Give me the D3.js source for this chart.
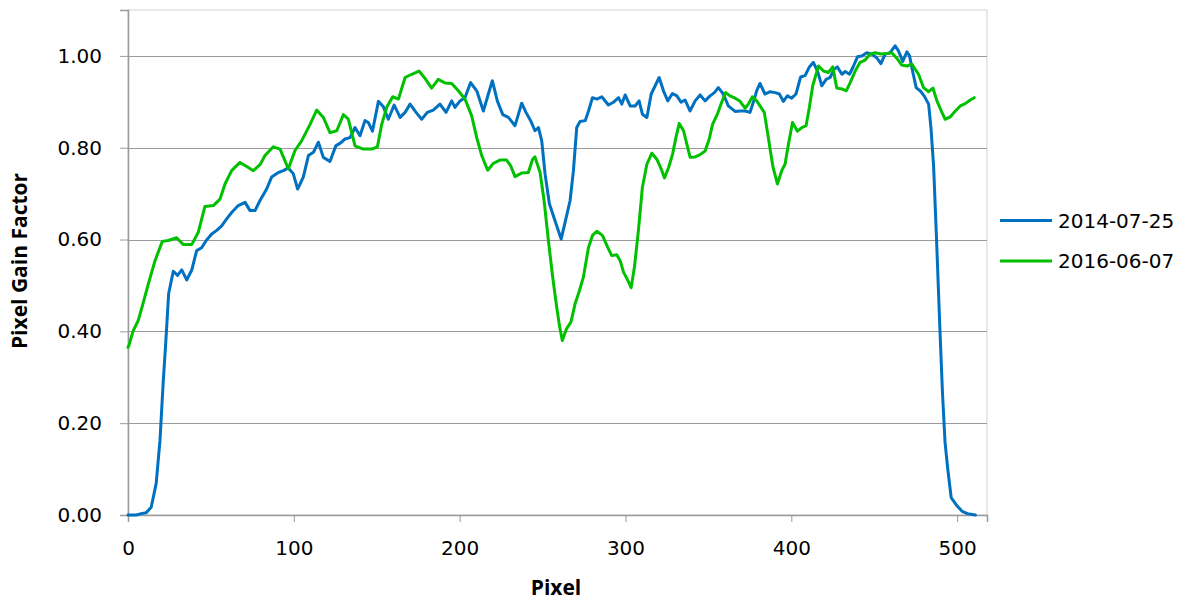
<!DOCTYPE html>
<html>
<head>
<meta charset="utf-8">
<script src="https://cdn.jsdelivr.net/npm/d3@7/dist/d3.min.js"></script>
<style>
  html, body { margin: 0; padding: 0; background: #fff; }
  svg { display: block; }
</style>
</head>
<body>
<svg id="chart" width="1193" height="603"></svg>
<script>
// ---- data ----
const seriesNames = ["2014-07-25", "2016-06-07"];
const seriesColors = ["#0070C0", "#00C000"];
const xTicks = [0, 100, 200, 300, 400, 500];
const yTicks = [0, 0.2, 0.4, 0.6, 0.8, 1.0];

const bluePixel = [0,5,8,11,14,17,19.3,21.3,22.5,23.5,24.5,27.3,29.9,32.4,35.4,38.4,41.4,44.4,47.4,50.5,53.5,56.5,59.5,62.5,66.5,70.6,73.6,76.6,79.6,83.6,86.6,90.7,93.7,96.7,99.7,102.3,105.7,108.8,111.8,114.8,117.8,121.8,125.3,128,130.9,133.9,136.9,139.9,142.9,144.9,147.4,151,154,157,160.5,164.1,167.1,170.1,173.7,177.1,180.5,184.1,188.1,191.8,195.2,197.2,200.2,203.2,206.6,210.3,214.3,217.3,219.7,222.7,226,229.4,233.4,237.4,240,242.8,245.4,247.5,249.5,251.5,254.1,257.5,261.2,263.6,266.6,268.6,270.6,272.6,275.7,277.7,280.1,282.7,285.7,289.7,292.7,295.8,297.8,299.8,302.8,305.8,308.2,310.2,312.9,315.5,317.9,320.3,322.9,325.5,328.3,331,333.5,335.9,338.9,342,345,348,351,353.6,356,359,362,366.1,369.1,372.1,375.1,377.7,379.1,381.1,384.1,387.2,390.2,392.8,395.2,397.6,400.2,402.8,405.6,408.3,410.9,413.3,415.8,418.4,421,423.4,425.8,427.8,430.5,432.5,435.1,437.5,439.9,442.5,445.5,448.5,451.5,454,456.6,459.6,462.6,464.6,467.2,469.7,471.3,473.3,475.3,477.7,480.1,482.8,484.2,485.8,487.5,489.6,491.1,492.7,494.4,496.4,499.9,503,506.2,511];
const blueGain = [0,0,0.003,0.005,0.017,0.069,0.163,0.294,0.36,0.42,0.482,0.531,0.522,0.534,0.512,0.533,0.576,0.582,0.599,0.612,0.62,0.63,0.645,0.659,0.674,0.681,0.663,0.663,0.685,0.71,0.736,0.746,0.75,0.756,0.743,0.71,0.736,0.783,0.79,0.812,0.779,0.77,0.804,0.81,0.819,0.822,0.844,0.826,0.859,0.855,0.836,0.901,0.889,0.862,0.893,0.866,0.877,0.895,0.877,0.862,0.877,0.882,0.895,0.877,0.902,0.888,0.902,0.909,0.942,0.924,0.88,0.917,0.946,0.902,0.872,0.866,0.848,0.897,0.877,0.859,0.837,0.844,0.815,0.743,0.678,0.641,0.601,0.638,0.685,0.75,0.844,0.857,0.859,0.88,0.909,0.906,0.911,0.893,0.899,0.909,0.895,0.915,0.891,0.891,0.902,0.873,0.866,0.917,0.935,0.953,0.924,0.902,0.918,0.913,0.899,0.904,0.88,0.902,0.915,0.902,0.913,0.92,0.931,0.917,0.891,0.879,0.88,0.88,0.877,0.906,0.924,0.94,0.917,0.922,0.92,0.917,0.901,0.913,0.908,0.917,0.954,0.957,0.976,0.986,0.967,0.935,0.949,0.953,0.971,0.976,0.96,0.966,0.96,0.978,0.998,1.0,1.007,1.004,0.996,0.983,1.004,1.007,1.022,1.011,0.988,1.009,1.0,0.964,0.931,0.924,0.913,0.895,0.844,0.76,0.607,0.405,0.27,0.158,0.098,0.038,0.02,0.008,0.003,0];

const greenPixel = [0,0.6,3,6.2,9,12.3,16.3,20.7,24.3,29.3,33.4,38.4,42.4,46.4,51.5,55.5,58.5,62.5,67.5,71.6,75.6,79.6,82.6,87.6,91.7,96.7,100.7,104.7,109.8,113.8,117.8,121.8,125.9,129.9,132.9,136.9,141.9,147,150.4,153,156,159.6,163.1,167.1,171.1,175.5,179.1,183.1,187.1,191.2,195.2,199.2,203.2,207.2,210.3,213.3,216.9,220.3,224.3,228.3,230.7,233.4,237.4,241.4,244,245.4,248.5,250.9,253.5,256.1,258.5,260.3,261.9,264.5,267.1,269.6,272,274.6,277.7,280.1,282.7,286.1,289.3,291.7,294.7,296.8,298.8,301.4,303.4,305.4,307.8,310.2,312.9,315.9,318.9,321.5,323.5,326,328.4,330.4,332.4,335,337,339,342,345,348,350.5,352.5,355.6,358,360.4,363,366.1,369.1,372.1,374.1,376.5,379.1,381.7,383.7,385.8,387.5,389,391.6,394.2,396.2,398.3,400.7,403.7,406.3,408.9,410.9,412.9,416.4,419.4,422.4,425,427.4,430.5,433.1,435.5,438.5,441.5,444.5,447.5,450.5,454,457.2,460.6,463.6,466.6,469.7,472.7,476.7,479.7,482.8,485.4,487.8,490.8,492.8,495.8,498.9,501.9,504.9,507.9,510.3];
const greenGain = [0.365,0.37,0.4,0.424,0.46,0.504,0.554,0.596,0.598,0.604,0.589,0.589,0.616,0.672,0.674,0.688,0.721,0.75,0.768,0.759,0.75,0.763,0.783,0.802,0.797,0.754,0.794,0.815,0.851,0.882,0.866,0.833,0.837,0.872,0.862,0.804,0.797,0.797,0.802,0.851,0.888,0.911,0.906,0.953,0.96,0.967,0.951,0.93,0.949,0.941,0.94,0.924,0.906,0.87,0.822,0.783,0.751,0.766,0.773,0.773,0.761,0.737,0.745,0.746,0.775,0.78,0.746,0.685,0.598,0.518,0.453,0.41,0.38,0.406,0.42,0.46,0.486,0.518,0.583,0.609,0.618,0.609,0.583,0.565,0.567,0.554,0.529,0.511,0.495,0.54,0.62,0.714,0.764,0.788,0.775,0.754,0.734,0.757,0.786,0.822,0.853,0.837,0.808,0.779,0.78,0.785,0.793,0.819,0.851,0.875,0.899,0.92,0.913,0.908,0.901,0.886,0.895,0.911,0.902,0.888,0.877,0.83,0.79,0.757,0.721,0.75,0.764,0.808,0.855,0.836,0.844,0.848,0.888,0.935,0.978,0.967,0.964,0.976,0.93,0.928,0.924,0.942,0.967,0.986,0.991,1.004,1.007,1.004,1.005,1.007,0.995,0.98,0.978,0.982,0.96,0.931,0.922,0.93,0.902,0.877,0.862,0.867,0.88,0.891,0.896,0.904,0.909];

// ---- layout ----
const svg = d3.select("#chart");
const plotL = 128, plotR = 987, plotT = 10, plotB = 515;
const x = d3.scaleLinear().domain([0, 518]).range([plotL, plotR]);
const y = d3.scaleLinear().domain([0, 1.1]).range([plotB, plotT]);
const tickFont = "'DejaVu Sans', sans-serif";

// plot border (top / right)
svg.append("rect").attr("x", plotL).attr("y", plotT).attr("width", plotR - plotL).attr("height", plotB - plotT)
  .attr("fill", "none").attr("stroke", "#d9d9d9").attr("stroke-width", 1.2);

// gridlines
svg.append("g").selectAll("line").data(yTicks.filter(d => d > 0)).join("line")
  .attr("x1", plotL).attr("x2", plotR)
  .attr("y1", d => Math.round(y(d)) + 0.5).attr("y2", d => Math.round(y(d)) + 0.5)
  .attr("stroke", "#9a9a9a").attr("stroke-width", 1);

// y axis
const yAxis = svg.append("g").attr("transform", `translate(${plotL},0)`)
  .call(d3.axisLeft(y).tickValues(yTicks).tickFormat(d3.format(".2f")).tickSize(8).tickPadding(18));
yAxis.select(".domain").attr("stroke", "#9a9a9a").attr("stroke-width", 1.5);
yAxis.selectAll(".tick line").attr("stroke", "#9a9a9a");
yAxis.selectAll(".tick text").attr("font-family", tickFont).attr("font-size", 20).attr("fill", "#000");

// x axis
const xAxis = svg.append("g").attr("transform", `translate(0,${plotB})`)
  .call(d3.axisBottom(x).tickValues(xTicks).tickFormat(d3.format("d")).tickSize(7).tickPadding(19));
xAxis.select(".domain").attr("stroke", "#9a9a9a").attr("stroke-width", 1.5);
xAxis.selectAll(".tick line").attr("stroke", "#9a9a9a");
xAxis.selectAll(".tick text").attr("font-family", tickFont).attr("font-size", 20).attr("fill", "#000");

// lines
const line = d3.line().x(d => x(d[0])).y(d => y(d[1])).curve(d3.curveLinear);
const series = [
  d3.zip(bluePixel, blueGain),
  d3.zip(greenPixel, greenGain)
];
svg.append("g").selectAll("path").data(series).join("path")
  .attr("d", line)
  .attr("fill", "none")
  .attr("stroke", (d, i) => seriesColors[i])
  .attr("stroke-width", 3)
  .attr("stroke-linejoin", "round")
  .attr("stroke-linecap", "round");

// axis titles
svg.append("text").attr("x", 556).attr("y", 595).attr("text-anchor", "middle")
  .attr("font-family", "'Open Sans', sans-serif").attr("font-weight", "bold").attr("font-size", 21)
  .text("Pixel");
svg.append("text").attr("transform", "translate(27,261) rotate(-90)").attr("text-anchor", "middle")
  .attr("font-family", "'Open Sans', sans-serif").attr("font-weight", "bold").attr("font-size", 21)
  .text("Pixel Gain Factor");

// legend
const legend = svg.append("g").selectAll("g").data(seriesNames).join("g")
  .attr("transform", (d, i) => `translate(1000,${220.5 + i * 40.5})`);
legend.append("line").attr("x1", 0).attr("x2", 52).attr("y1", 0).attr("y2", 0)
  .attr("stroke", (d, i) => seriesColors[i]).attr("stroke-width", 3);
legend.append("text").attr("x", 58).attr("y", 7).attr("font-family", tickFont).attr("font-size", 20)
  .attr("fill", "#000").text(d => d);
</script>
</body>
</html>
